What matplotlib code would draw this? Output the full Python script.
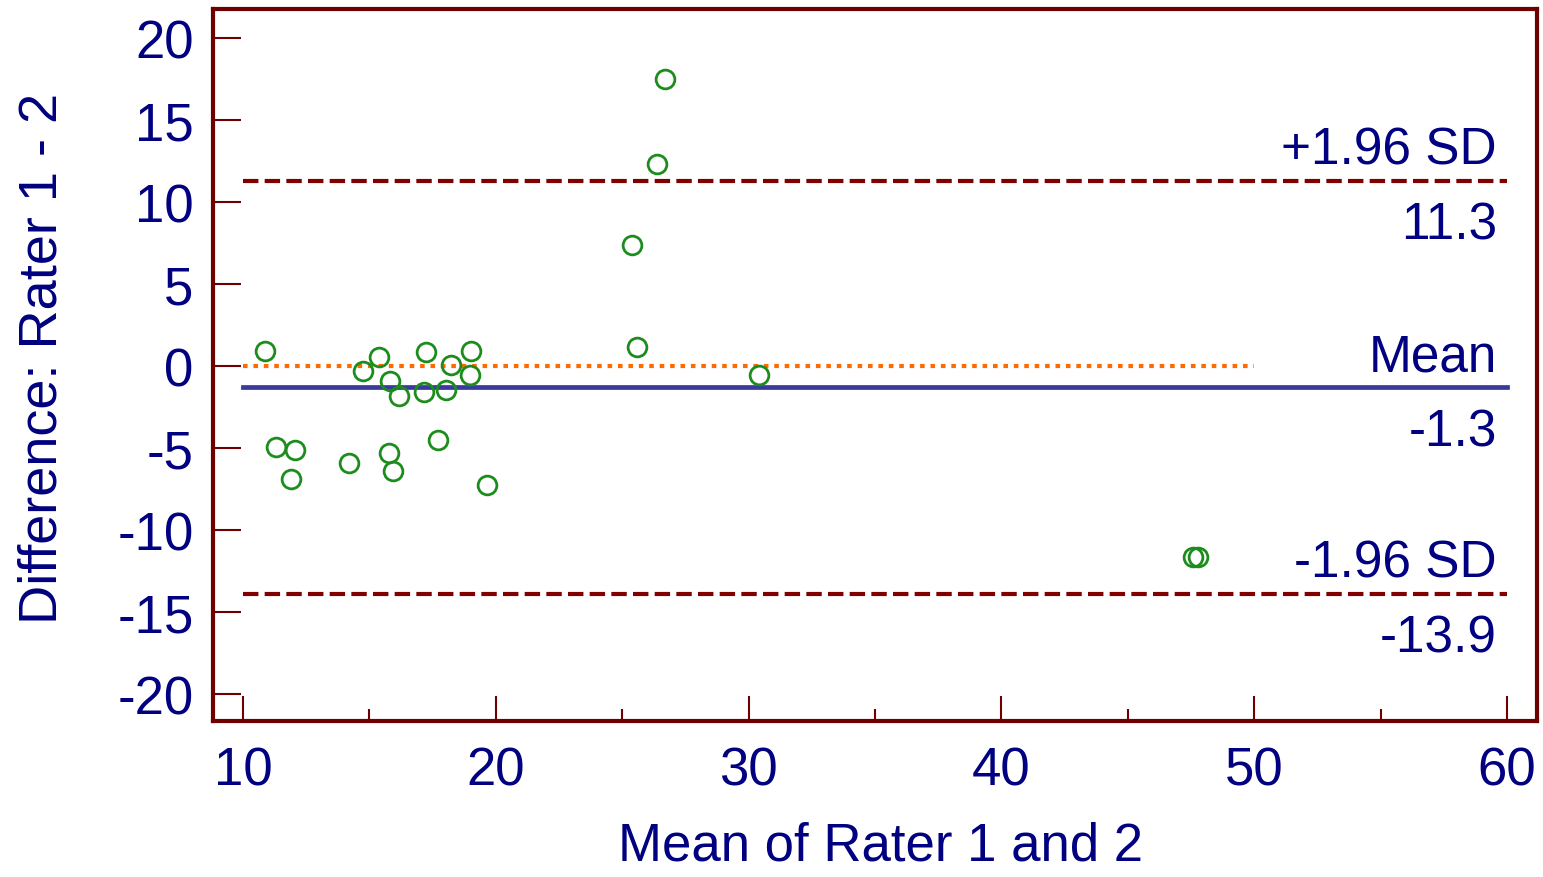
import numpy as np
import matplotlib
matplotlib.use("Agg")
import matplotlib.pyplot as plt
from matplotlib.ticker import MultipleLocator

plt.rcParams['font.family'] = ['Liberation Sans', 'DejaVu Sans']
plt.rcParams['axes.unicode_minus'] = False

# Bland-Altman data: mean of the two raters vs difference
mean_vals = [10.87, 11.3, 12.06, 11.88, 14.21, 14.75, 15.38, 15.81, 15.77, 15.93,
             16.17, 17.23, 17.17, 17.70, 18.03, 18.23, 19.02, 18.98, 19.66,
             25.37, 25.57, 26.36, 26.69, 30.42, 47.58, 47.78]
diff_vals = [0.89, -4.95, -5.12, -6.91, -5.93, -0.32, 0.53, -0.91, -5.29, -6.42,
             -1.81, 0.83, -1.60, -4.53, -1.44, 0.08, 0.91, -0.55, -7.24,
             7.37, 1.17, 12.32, 17.51, -0.55, -11.65, -11.65]

mean_diff = -1.3
upper_loa = 11.3
lower_loa = -13.9
x_start, x_end = 10, 60
zero_end = 50

frame_col = '#6e0000'
text_col = '#000080'

fig = plt.figure(figsize=(15.43, 8.78), dpi=100, facecolor='white')
ax = fig.add_axes([213 / 1543, 1 - 722 / 878, 1324 / 1543, 712 / 878])

# reference lines
ax.plot([x_start, zero_end], [0, 0], color='#ff6a00', lw=3, ls=(0, (1.1, 1.4)))
ax.plot([x_start, x_end], [mean_diff, mean_diff], color='#3a3a9e', lw=3.4)
ax.plot([x_start, x_end], [upper_loa, upper_loa], color='#800000', lw=3, ls=(0, (3.7, 1.5)))
ax.plot([x_start, x_end], [lower_loa, lower_loa], color='#800000', lw=3, ls=(0, (3.7, 1.5)))

# points
ax.plot(mean_vals, diff_vals, 'o', ms=13.5, mfc='none', mec='#1c8c1c', mew=2)

# line annotations
def label(y, above, below):
    ax.annotate(above, xy=(x_end, y), xytext=(-10, 17), textcoords='offset pixels',
                ha='right', va='baseline', fontsize=37, color=text_col)
    ax.annotate(below, xy=(x_end, y), xytext=(-10, -20), textcoords='offset pixels',
                ha='right', va='top', fontsize=37, color=text_col)

label(upper_loa, '+1.96 SD', f'{upper_loa:.1f}')
label(mean_diff, 'Mean', f'{mean_diff:.1f}')
label(lower_loa, '-1.96 SD', f'{lower_loa:.1f}')

ax.set_xlim(10 - 30 / 25.28, 60 + 30 / 25.28)
ax.set_ylim(-20 - 27 / 16.4, 20 + 29 / 16.4)

ax.xaxis.set_major_locator(MultipleLocator(10))
ax.xaxis.set_minor_locator(MultipleLocator(5))
ax.yaxis.set_major_locator(MultipleLocator(5))
ax.tick_params(axis='x', which='major', direction='in', length=18, width=1.5,
               color=frame_col, labelsize=38, labelcolor=text_col, pad=18)
ax.tick_params(axis='x', which='minor', direction='in', length=9, width=1.5, color=frame_col)
ax.tick_params(axis='y', which='major', direction='in', length=20, width=1.5,
               color=frame_col, labelsize=38, labelcolor=text_col, pad=14)

for sp in ax.spines.values():
    sp.set_color(frame_col)
    sp.set_linewidth(3)

ax.set_xlabel('Mean of Rater 1 and 2', fontsize=38, color=text_col)
ax.set_ylabel('Difference: Rater 1 - 2', fontsize=39, color=text_col)
ax.xaxis.set_label_coords(0.504, -0.14)
ax.yaxis.set_label_coords(-0.11, 0.51)

fig.savefig('out.png', dpi=100, facecolor='white')
